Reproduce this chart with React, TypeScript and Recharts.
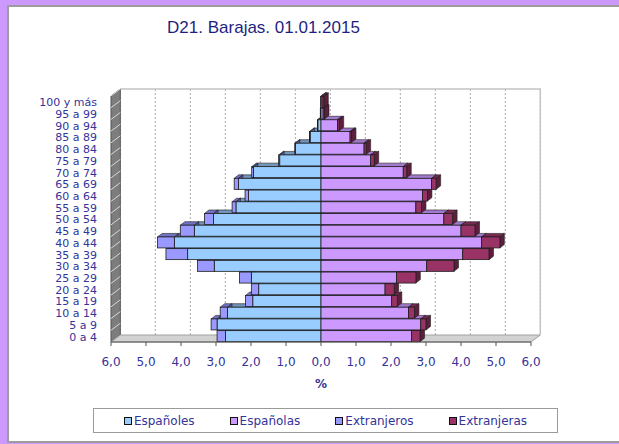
import { BarChart, Bar, XAxis, YAxis, CartesianGrid, ReferenceArea, Legend } from "recharts";

const AGE_GROUPS = [
  "0 a 4", "5 a 9", "10 a 14", "15 a 19", "20 a 24", "25 a 29", "30 a 34",
  "35 a 39", "40 a 44", "45 a 49", "50 a 54", "55 a 59", "60 a 64", "65 a 69",
  "70 a 74", "75 a 79", "80 a 84", "85 a 89", "90 a 94", "95 a 99", "100 y más",
];

// % of population, men on the left, women on the right
const ESPANOLES = [2.73, 2.97, 2.67, 1.95, 1.78, 1.99, 3.05, 3.81, 4.19, 3.62, 3.07, 2.43, 2.07, 2.36, 1.93, 1.18, 0.73, 0.31, 0.09, 0.02, 0.01];
const EXTRANJEROS = [0.24, 0.17, 0.21, 0.21, 0.21, 0.34, 0.48, 0.62, 0.48, 0.4, 0.26, 0.11, 0.1, 0.12, 0.05, 0.03, 0.02, 0.02, 0.01, 0, 0];
const ESPANOLAS = [2.59, 2.85, 2.5, 2.02, 1.83, 2.16, 3.02, 4.05, 4.59, 4.0, 3.51, 2.71, 2.9, 3.16, 2.35, 1.42, 1.23, 0.83, 0.47, 0.06, 0.03];
const EXTRANJERAS = [0.24, 0.15, 0.17, 0.16, 0.26, 0.55, 0.78, 0.75, 0.52, 0.4, 0.25, 0.16, 0.14, 0.13, 0.1, 0.1, 0.06, 0.04, 0.05, 0.04, 0.05];

const X_TICKS = [-6, -5, -4, -3, -2, -1, 0, 1, 2, 3, 4, 5, 6];

const SERIES = [
  { key: "espanoles", name: "Españoles", front: "#99ccff", top: "#7297bd", side: "#56779a" },
  { key: "espanolas", name: "Españolas", front: "#cc99ff", top: "#a47ad0", side: "#7d5c9e" },
  { key: "extranjeros", name: "Extranjeros", front: "#9999ff", top: "#7272c8", side: "#56569a" },
  { key: "extranjeras", name: "Extranjeras", front: "#993366", top: "#7a2952", side: "#5c1f3d" },
];

const data = AGE_GROUPS.map((age, i) => ({
  age,
  espanoles: -ESPANOLES[i],
  espanolas: ESPANOLAS[i],
  extranjeros: -EXTRANJEROS[i],
  extranjeras: EXTRANJERAS[i],
}));

const W = 619;
const H = 444;
const TEXT = "#333399";
const FONT = "'DejaVu Sans', Verdana, sans-serif";
// depth of the back wall and of each bar (3d look)
const WALL_DX = 9.3;
const WALL_DY = 7;
const BAR_DX = 4.5;
const BAR_DY = 3.5;

const fmt = (v: number) => Math.abs(v).toFixed(1).replace(".", ",");

function box(props: any) {
  const { x, y, width, height } = props;
  const l = Math.min(x, x + width);
  return { l, r: l + Math.abs(width), t: y, b: y + height, w: Math.abs(width) };
}

const frontShape = (color: string) => (props: any) => {
  const { l, t, w } = box(props);
  if (!w || !props.height) return <g />;
  return <rect x={l} y={t} width={w} height={props.height} fill={color} stroke="#1e1e1e" strokeWidth={0.8} />;
};

const depthShape = (top: string, side: string) => (props: any) => {
  const { l, r, t, b, w } = box(props);
  if (!w || !props.height) return <g />;
  return (
    <g stroke="#1e1e1e" strokeWidth={0.6}>
      <polygon points={`${l},${t} ${r},${t} ${r + BAR_DX},${t - BAR_DY} ${l + BAR_DX},${t - BAR_DY}`} fill={top} />
      <polygon points={`${r},${t} ${r + BAR_DX},${t - BAR_DY} ${r + BAR_DX},${b - BAR_DY} ${r},${b}`} fill={side} />
    </g>
  );
};

const emptyShape = () => <g />;

const gridLine = (props: any) => (
  <line
    key={props.key ?? `${props.x1}`}
    x1={props.x1 + WALL_DX}
    x2={props.x2 + WALL_DX}
    y1={props.y1 - WALL_DY}
    y2={props.y2 - WALL_DY}
    stroke="#a8a8a8"
    strokeDasharray="2 2"
  />
);

const wallShape = (props: any) => {
  const { x, y, width, height } = props;
  const b = y + height;
  return (
    <g>
      <polygon
        points={`${x},${y} ${x + WALL_DX},${y - WALL_DY} ${x + WALL_DX},${b - WALL_DY} ${x},${b}`}
        fill="#7d7d7d"
        stroke="#555"
      />
      <polygon
        points={`${x},${b} ${x + width},${b} ${x + width + WALL_DX},${b - WALL_DY} ${x + WALL_DX},${b - WALL_DY}`}
        fill="#d2d2d2"
        stroke="#a0a0a0"
      />
      <polyline
        points={`${x + WALL_DX},${y - WALL_DY} ${x + width + WALL_DX},${y - WALL_DY} ${x + width + WALL_DX},${b - WALL_DY}`}
        fill="none"
        stroke="#c4c4c4"
        strokeWidth={1.5}
      />
    </g>
  );
};

const AgeTick = (props: any) => {
  const { x, y, payload } = props;
  const bandTop = y - 5.86;
  return (
    <g>
      <line x1={111} y1={bandTop} x2={111 + WALL_DX} y2={bandTop - WALL_DY} stroke="#d8d8d8" strokeWidth={1} />
      <text x={x} y={y} dy="0.4em" textAnchor="end" fill={TEXT} fontSize={11} fontFamily={FONT}>
        {payload.value}
      </text>
    </g>
  );
};

const LegendBox = () => (
  <div
    style={{
      width: 465,
      height: 25,
      boxSizing: "border-box",
      border: "1px solid #9a9a9a",
      background: "#fff",
      display: "flex",
      justifyContent: "center",
      alignItems: "center",
      gap: 35,
      fontFamily: FONT,
      fontSize: 12,
      color: TEXT,
    }}
  >
    {SERIES.map((s) => (
      <span key={s.key} style={{ display: "flex", alignItems: "center" }}>
        <span
          style={{
            width: 6,
            height: 6,
            background: s.front,
            border: "1px solid #111",
            marginRight: 2,
            display: "inline-block",
          }}
        />
        {s.name}
      </span>
    ))}
  </div>
);

function PyramidLayer({ layer }: { layer: "walls" | "depth" | "front" }) {
  const front = layer === "front";
  const shapeFor = (s: (typeof SERIES)[number]) =>
    layer === "front" ? frontShape(s.front) : layer === "depth" ? depthShape(s.top, s.side) : emptyShape;
  return (
    <BarChart
      width={W}
      height={H}
      data={data}
      layout="vertical"
      stackOffset="sign"
      barCategoryGap="3%"
      margin={{ top: 96, right: 88, bottom: 56, left: 0 }}
    >
      {layer === "walls" && <CartesianGrid horizontal={false} vertical={gridLine} />}
      {layer === "walls" && <ReferenceArea x1={-6} x2={6} shape={wallShape} ifOverflow="visible" />}
      <XAxis
        type="number"
        domain={[-6, 6]}
        ticks={X_TICKS}
        interval={0}
        height={46}
        tickFormatter={fmt}
        axisLine={front ? { stroke: "#555" } : false}
        tickLine={front ? { stroke: "#555" } : false}
        tickSize={4}
        tickMargin={11}
        tick={{ fill: front ? TEXT : "transparent", fontSize: 12, fontFamily: FONT }}
        label={
          front
            ? { value: "%", position: "insideBottom", offset: 0, fill: TEXT, fontSize: 12, fontWeight: "bold", fontFamily: FONT }
            : undefined
        }
      />
      <YAxis
        type="category"
        dataKey="age"
        reversed
        width={111}
        axisLine={false}
        tickLine={false}
        tickSize={0}
        tickMargin={14}
        interval={0}
        tick={front ? <AgeTick /> : false}
      />
      {SERIES.map((s) => (
        <Bar
          key={s.key}
          dataKey={s.key}
          name={s.name}
          stackId="p"
          fill={s.front}
          isAnimationActive={false}
          shape={shapeFor(s)}
        />
      ))}
      {front && (
        <Legend
          layout="horizontal"
          verticalAlign="middle"
          align="center"
          content={() => <LegendBox />}
          wrapperStyle={{ left: 93, top: 408, width: 465, height: 25 }}
        />
      )}
    </BarChart>
  );
}

export default function App() {
  return (
    <div style={{ position: "fixed", left: 0, top: 0, width: W, height: H, background: "#cc99ff", overflow: "hidden" }}>
      <div
        style={{
          position: "absolute",
          left: 7,
          top: 5,
          width: 660,
          height: 438,
          boxSizing: "border-box",
          border: "2px solid #9c9c9c",
          background: "#fff",
        }}
      />
      <div
        style={{
          position: "absolute",
          left: 0,
          top: 19,
          width: 527,
          textAlign: "center",
          fontFamily: "'Liberation Sans', Arial, sans-serif",
          fontSize: 17,
          lineHeight: "17px",
          color: "#1f1f80",
        }}
      >
        D21. Barajas. 01.01.2015
      </div>
      <div style={{ position: "absolute", left: 0, top: 0 }}>
        <PyramidLayer layer="walls" />
      </div>
      <div style={{ position: "absolute", left: 0, top: 0 }}>
        <PyramidLayer layer="depth" />
      </div>
      <div style={{ position: "absolute", left: 0, top: 0 }}>
        <PyramidLayer layer="front" />
      </div>
    </div>
  );
}
